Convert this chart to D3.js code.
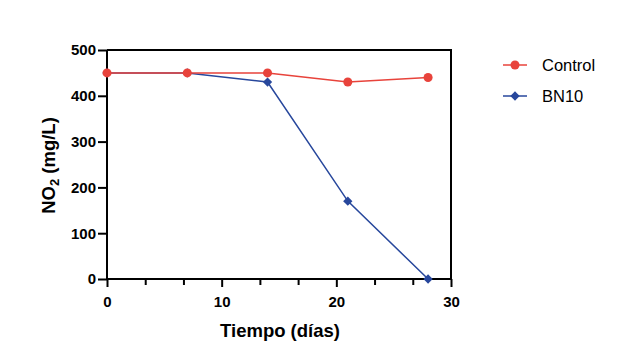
<!DOCTYPE html>
<html><head><meta charset="utf-8">
<script src="https://cdn.jsdelivr.net/npm/d3@7"></script>
<style>body{margin:0;background:#fff}svg{display:block;font-family:Arial,"Liberation Sans",Helvetica,sans-serif}</style>
</head><body>
<svg id="c" width="625" height="357"></svg>
<script>
const days = [0, 7, 14, 21, 28];
const controlValues = [450, 450, 450, 430, 440];
const bn10Values = [450, 450, 430, 170, 0];
const xTicks = [0, 10, 20, 30];
const yTicks = [0, 100, 200, 300, 400, 500];
const seriesNames = ["Control", "BN10"];
const seriesColors = ["#e8433b", "#27479c"];

const svg = d3.select("#c");
const m = {l:107, r:451, t:50, b:279};
const x = d3.scaleLinear().domain([0,30]).range([m.l, m.r]);
const y = d3.scaleLinear().domain([0,500]).range([m.b, m.t]);

svg.append("path").attr("d",`M${m.l},${m.t}H${m.r}V${m.b}`).attr("fill","none").attr("stroke","#000").attr("stroke-width",2);

const yAx = svg.append("g").attr("transform",`translate(${m.l},0)`)
  .call(d3.axisLeft(y).tickValues(yTicks).tickSize(9).tickPadding(2));
const minor = d3.range(0,30.01,10/3).map(v=>+v.toFixed(4));
const isMajor = d => xTicks.some(t=>Math.abs(t-d)<1e-6);
const xAx = svg.append("g").attr("transform",`translate(0,${m.b})`)
  .call(d3.axisBottom(x).tickValues(minor).tickSize(8).tickPadding(9)
    .tickFormat(d => isMajor(d) ? d3.format("d")(Math.round(d)) : ""));
xAx.selectAll(".tick line").attr("y2", d => isMajor(d) ? 8 : 6);
[yAx,xAx].forEach(a=>{
  a.select(".domain").attr("stroke","#000").attr("stroke-width",2);
  a.selectAll(".tick line").attr("stroke","#000").attr("stroke-width",2);
  a.selectAll(".tick text").attr("fill","#000").attr("font-size",15).attr("font-weight","bold");
});
yAx.select(".domain").attr("d",`M0,${m.t}V${m.b}`);
xAx.select(".domain").attr("d",`M${m.l},0H${m.r}`);

svg.append("text").attr("x",(m.l+m.r)/2+1).attr("y",337).attr("text-anchor","middle")
  .attr("font-size",18.5).attr("font-weight","bold").text("Tiempo (días)");
const yt = svg.append("text").attr("transform",`translate(55,${(m.t+m.b)/2+1}) rotate(-90)`)
  .attr("text-anchor","middle").attr("font-size",18.5).attr("font-weight","bold");
yt.append("tspan").text("NO");
yt.append("tspan").attr("font-size",13).attr("dy",4).text("2");
yt.append("tspan").attr("dy",-4).text(" (mg/L)");

const line = d3.line().x(d=>x(d[0])).y(d=>y(d[1]));
const series = [
  {name:seriesNames[1], vals:bn10Values, color:seriesColors[1], shape:d3.symbolDiamond2, size:55},
  {name:seriesNames[0], vals:controlValues, color:seriesColors[0], shape:d3.symbolCircle, size:64}
];
series.forEach(s=>{
  const pts = days.map((d,i)=>[d,s.vals[i]]);
  svg.append("path").attr("d",line(pts)).attr("fill","none").attr("stroke",s.color).attr("stroke-width",1.5);
  svg.selectAll(null).data(pts).enter().append("path")
    .attr("d",d3.symbol(s.shape,s.size)).attr("transform",d=>`translate(${x(d[0])},${y(d[1])})`)
    .attr("fill",s.color);
});

const leg = [series[1], series[0]];
leg.forEach((s,i)=>{
  const ly = 65 + i*31;
  svg.append("line").attr("x1",503).attr("x2",527).attr("y1",ly).attr("y2",ly).attr("stroke",s.color).attr("stroke-width",1.5);
  svg.append("path").attr("d",d3.symbol(s.shape,s.size)).attr("transform",`translate(515,${ly})`).attr("fill",s.color);
  svg.append("text").attr("x",542).attr("y",ly+6).attr("font-size",16.5).attr("fill","#000").text(s.name);
});
</script>
</body></html>
